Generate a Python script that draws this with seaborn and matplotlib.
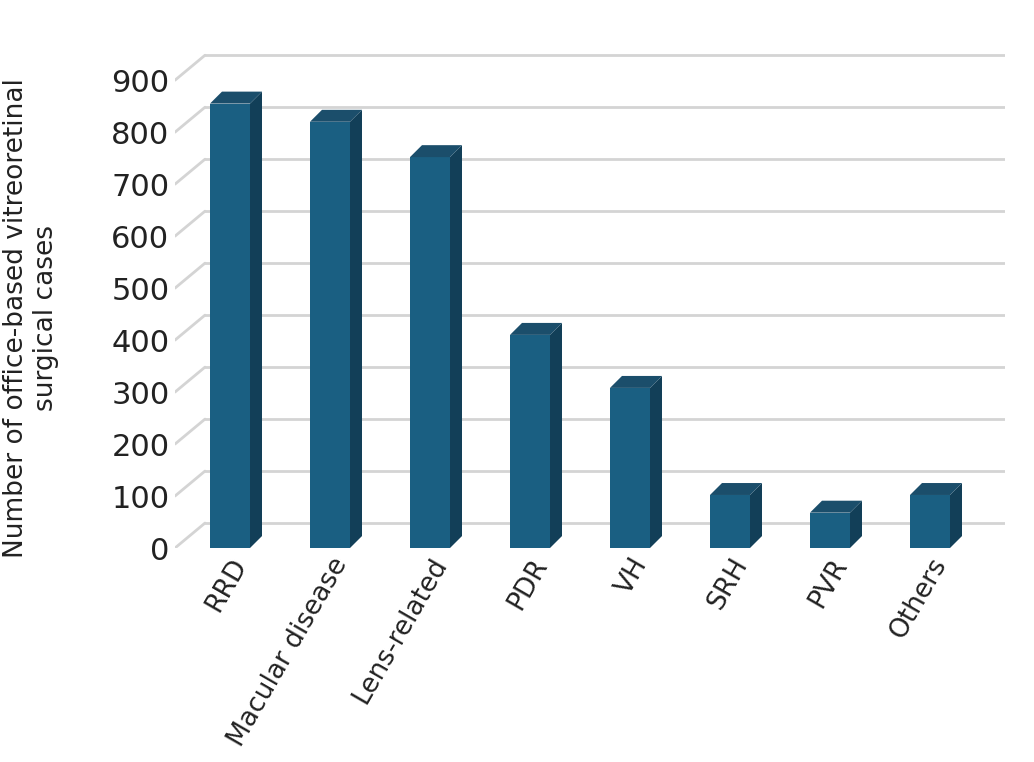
import matplotlib
matplotlib.use('Agg')
import matplotlib.pyplot as plt
import seaborn as sns
import pandas as pd
from matplotlib.patches import Polygon

categories = ['RRD', 'Macular disease', 'Lens-related', 'PDR', 'VH', 'SRH', 'PVR', 'Others']
cases = [855, 820, 752, 410, 308, 102, 68, 102]
yticks = [0, 100, 200, 300, 400, 500, 600, 700, 800, 900]

df = pd.DataFrame({'category': categories, 'cases': cases})

sns.set_theme(style='white')
plt.rcParams['font.family'] = ['Liberation Sans Narrow', 'DejaVu Sans Condensed', 'DejaVu Sans']

fig = plt.figure(figsize=(10.34, 7.62), dpi=100)
ax = fig.add_axes([175 / 1034, 214 / 762, 830 / 1034, 499 / 762])

front = '#1a5f82'
side = '#123f58'
top = '#1b4e6b'

sns.barplot(data=df, x='category', y='cases', color=front, width=0.4,
            saturation=1, linewidth=0, ax=ax, zorder=3)

ax.set_xlim(-0.55, 7.75)
ax.set_ylim(0, 960)

# back wall grid offset
wdx, wdy = 0.3, 48
x0, x1 = -0.55, 7.75
for t in yticks:
    ax.plot([x0 + wdx, x1], [t + wdy, t + wdy], color='#d4d4d4', lw=2, zorder=1)
    ax.plot([x0, x0 + wdx], [t, t + wdy], color='#d4d4d4', lw=2, zorder=1)

# 3D depth on bars
bdx, bdy = 0.12, 23
for p in ax.patches:
    xl = p.get_x()
    w = p.get_width()
    h = p.get_height()
    xr = xl + w
    ax.add_patch(Polygon([(xr, 0), (xr + bdx, bdy), (xr + bdx, h + bdy), (xr, h)],
                         closed=True, fc=side, ec='none', zorder=3))
    ax.add_patch(Polygon([(xl, h), (xl + bdx, h + bdy), (xr + bdx, h + bdy), (xr, h)],
                         closed=True, fc=top, ec='none', zorder=3))

for s in ax.spines.values():
    s.set_visible(False)

ax.set_yticks(yticks)
ax.set_yticklabels([str(t) for t in yticks], fontsize=22, color='#222222')
ax.tick_params(axis='both', length=0, pad=4)
ax.set_xticks(range(len(categories)))
ax.set_xticklabels(categories, rotation=60, ha='right', rotation_mode='anchor',
                   fontsize=19, color='#222222')
ax.set_xlabel('')
ax.set_ylabel('Number of office-based vitreoretinal\nsurgical cases', fontsize=19,
              color='#222222', labelpad=10)
ax.yaxis.set_label_coords(-0.14, 0.46)

fig.savefig('out.png', dpi=100)
